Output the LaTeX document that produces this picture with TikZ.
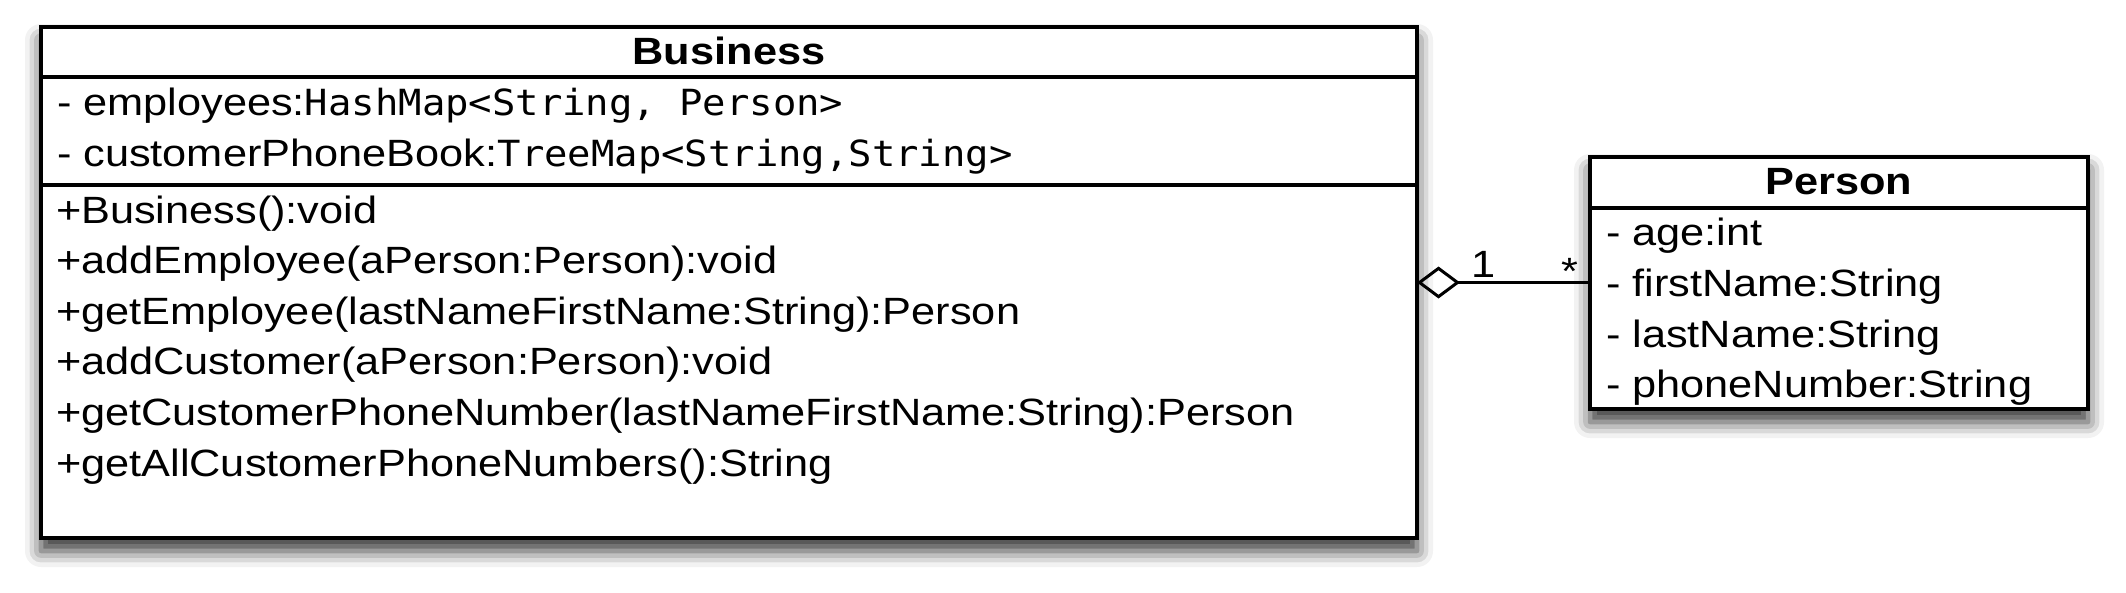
\documentclass[tikz,border=0pt]{standalone}
\usepackage{fontspec}
\setmainfont[FakeStretch=1.14]{Liberation Sans}
\newfontfamily\monof[FakeStretch=1.08]{DejaVu Sans Mono}
\usetikzlibrary{arrows.meta,shadows.blur}
\newcommand{\mtype}[1]{{\fontsize{36}{44}\selectfont\monof #1}}
\begin{document}
\begin{tikzpicture}[x=1pt,y=-1pt,
  every node/.style={inner sep=0pt, outer sep=0pt},
  classbox/.style={draw, line width=3.5pt, fill=white,
    blur shadow={shadow xshift=0pt, shadow yshift=-13pt, shadow blur radius=16pt, shadow opacity=80}},
  sepline/.style={line width=3.5pt},
  member/.style={anchor=base west, font=\fontsize{38}{46}\selectfont},
  classtitle/.style={anchor=base, font=\fontsize{38}{46}\selectfont\bfseries},
  mult/.style={anchor=base, font=\fontsize{38}{46}\selectfont},
  aggr/.style={line width=3pt, {Diamond[open, length=43pt, width=32pt]}-},
]
\useasboundingbox (0,0) rectangle (2126,592);

% Business class
\node[classbox, minimum width=1376pt, minimum height=511pt] (business) at (729,282.5) {};
\draw[sepline] (business.west |- 0,77) -- (business.east |- 0,77);
\draw[sepline] (business.west |- 0,185) -- (business.east |- 0,185);
\node[classtitle] (btitle) at (729,64) {Business};
\node[member] (ba1) at (57,115) {- employees:\mtype{HashMap<String, Person>}};
\node[member] (ba2) at (57,166) {- customerPhoneBook:\mtype{TreeMap<String,String>}};
\node[member] (bm1) at (56,223) {+Business():void};
\node[member] (bm2) at (56,273.6) {+addEmployee(aPerson:Person):void};
\node[member] (bm3) at (56,324.2) {+getEmployee(lastNameFirstName:String):Person};
\node[member] (bm4) at (56,374.8) {+addCustomer(aPerson:Person):void};
\node[member] (bm5) at (56,425.4) {+getCustomerPhoneNumber(lastNameFirstName:String):Person};
\node[member] (bm6) at (56,476) {+getAllCustomerPhoneNumbers():String};

% Person class
\node[classbox, minimum width=498pt, minimum height=252pt] (person) at (1839,283) {};
\draw[sepline] (person.west |- 0,208) -- (person.east |- 0,208);
\node[classtitle] (ptitle) at (1839,194) {Person};
\node[member] (pa1) at (1606,245) {- age:int};
\node[member] (pa2) at (1606,296) {- firstName:String};
\node[member] (pa3) at (1606,347) {- lastName:String};
\node[member] (pa4) at (1606,397) {- phoneNumber:String};

% Aggregation
\draw[aggr] (business.east) -- (business.east -| person.west);
\node[mult] (one) at (1484,277) {1};
\node[mult] (many) at (1570,284) {*};
\end{tikzpicture}
\end{document}
